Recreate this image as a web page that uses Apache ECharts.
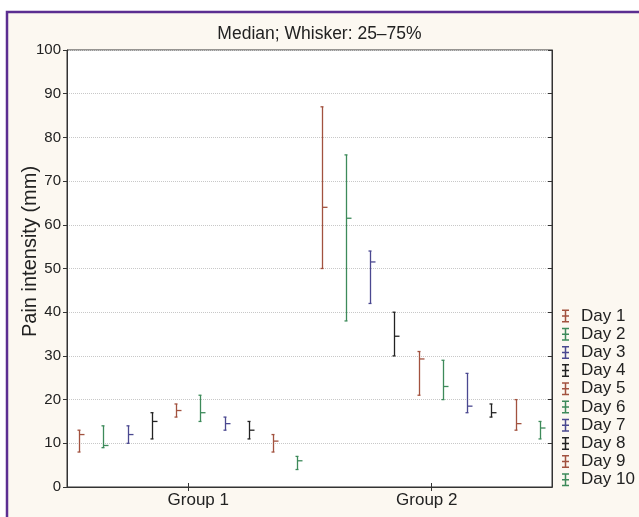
<!DOCTYPE html>
<html>
<head>
<meta charset="utf-8">
<script src="https://cdn.jsdelivr.net/npm/echarts@6/dist/echarts.min.js"></script>
<style>html,body{margin:0;padding:0;background:#fff;}#c{width:639px;height:517px;}</style>
</head>
<body>
<div id="c"></div>
<script>
const categories = ['Group 1', 'Group 2'];
const days = ['Day 1','Day 2','Day 3','Day 4','Day 5','Day 6','Day 7','Day 8','Day 9','Day 10'];
const yTicks = [0,10,20,30,40,50,60,70,80,90,100];
// per day: 25th percentile, median, 75th percentile
const group1Low  = [8, 9, 10, 11, 16, 15, 13, 11, 8, 4];
const group1Med  = [12, 9.5, 12, 15, 17.5, 17, 14.5, 13, 10.5, 6];
const group1High = [13, 14, 14, 17, 19, 21, 16, 15, 12, 7];
const group2Low  = [50, 38, 42, 30, 21, 20, 17, 16, 13, 11];
const group2Med  = [64, 61.5, 51.5, 34.5, 29.3, 23, 18.5, 17, 14.5, 13.5];
const group2High = [87, 76, 54, 40, 31, 29, 26, 19, 20, 15];
const dayColors = ['#a2523f','#3d8a5a','#4a4890','#222222','#a2523f','#3d8a5a','#4a4890','#222222','#a2523f','#3d8a5a'];

const chart = echarts.init(document.getElementById('c'));
const font = 'Liberation Sans, Arial, sans-serif';

function renderItem(params, api) {
  const d = params.seriesIndex;
  const g = api.value(0);
  const band = api.size([1, 0])[0];
  const cx = Math.round(api.coord([g, 0])[0] + (d - 4.5) * band / 10) + 0.5;
  const yl = api.coord([g, api.value(1)])[1];
  const ym = api.coord([g, api.value(2)])[1];
  const yh = api.coord([g, api.value(3)])[1];
  const st = { stroke: api.visual('color'), lineWidth: 1.3 };
  return {
    type: 'group',
    children: [
      { type: 'line', shape: { x1: cx, y1: yl, x2: cx, y2: yh }, style: st },
      { type: 'line', shape: { x1: cx - 2, y1: yh, x2: cx + 1, y2: yh }, style: st },
      { type: 'line', shape: { x1: cx - 2, y1: yl, x2: cx + 1, y2: yl }, style: st },
      { type: 'line', shape: { x1: cx, y1: ym, x2: cx + 5, y2: ym }, style: st }
    ]
  };
}

const series = days.map((name, d) => ({
  name: name,
  type: 'custom',
  renderItem: renderItem,
  itemStyle: { color: dayColors[d] },
  encode: { x: 0, y: [1, 2, 3] },
  data: [
    [0, group1Low[d], group1Med[d], group1High[d]],
    [1, group2Low[d], group2Med[d], group2High[d]]
  ],
  z: 5
}));

const axisLineStyle = { color: '#333', width: 1 };

chart.setOption({
  backgroundColor: '#ffffff',
  animation: false,
  graphic: [
    { type: 'rect', z: -100, silent: true,
      shape: { x: 7, y: 12, width: 700, height: 600 },
      style: { fill: '#fcf8f1', stroke: '#5b2e91', lineWidth: 2.5 } }
  ],
  title: {
    text: 'Median; Whisker: 25\u201375%',
    left: 'center', top: 20,
    textStyle: { fontFamily: font, fontSize: 17.5, fontWeight: 'normal', color: '#222' }
  },
  legend: {
    orient: 'vertical',
    left: 562, top: 307, padding: 0,
    itemWidth: 7, itemHeight: 13, itemGap: 0.2,
    icon: 'path://M0,0h7v1.5h-7z M2.75,0h1.5v13h-1.5z M0,5.75h7v1.5h-7z M0,11.5h7v1.5h-7z',
    textStyle: { fontFamily: font, fontSize: 17, color: '#222', lineHeight: 18, padding: [0, 0, 0, 7] },
    data: days
  },
  grid: { left: 67, right: 87, top: 50, bottom: 30, containLabel: false, outerBoundsMode: 'none',
    show: true, backgroundColor: '#ffffff', borderColor: '#333', borderWidth: 1 },
  xAxis: [
    { type: 'category', data: categories, position: 'bottom',
      axisLine: { show: true, lineStyle: axisLineStyle },
      axisTick: { show: true, inside: true, alignWithLabel: true, length: 4, lineStyle: axisLineStyle },
      axisLabel: { fontFamily: font, fontSize: 17, color: '#222', margin: 5,
        formatter: (v, i) => (i === 0 ? '{a|' + v + '}' : '{b|' + v + '}'),
        rich: {
          a: { fontFamily: font, fontSize: 17, color: '#222', padding: [0, 0, 0, 20] },
          b: { fontFamily: font, fontSize: 17, color: '#222', padding: [0, 8, 0, 0] }
        } },
      splitLine: { show: false } },
    { type: 'category', data: categories, position: 'top',
      axisLine: { show: true, lineStyle: axisLineStyle },
      axisTick: { show: true, inside: true, alignWithLabel: true, length: 4, lineStyle: axisLineStyle },
      axisLabel: { show: false }, splitLine: { show: false } }
  ],
  yAxis: [
    { type: 'value', min: yTicks[0], max: yTicks[yTicks.length - 1], interval: 10,
      name: 'Pain intensity (mm)', nameLocation: 'middle', nameGap: 27, nameMoveOverlap: false,
      nameTextStyle: { fontFamily: font, fontSize: 20, color: '#222', padding: [0, 0, 0, 34] },
      axisLine: { show: true, lineStyle: axisLineStyle },
      axisTick: { show: true, inside: false, length: 4, lineStyle: axisLineStyle },
      axisLabel: { fontFamily: font, fontSize: 15, color: '#222', margin: 6 },
      splitLine: { show: true, lineStyle: { color: '#c8c8c8', type: [1, 1], width: 1 } } },
    { type: 'value', min: yTicks[0], max: yTicks[yTicks.length - 1], interval: 10, position: 'right',
      axisLine: { show: true, lineStyle: axisLineStyle },
      axisTick: { show: true, inside: true, length: 4, lineStyle: axisLineStyle },
      axisLabel: { show: false }, splitLine: { show: false } }
  ],
  series: series
});
</script>
</body>
</html>
